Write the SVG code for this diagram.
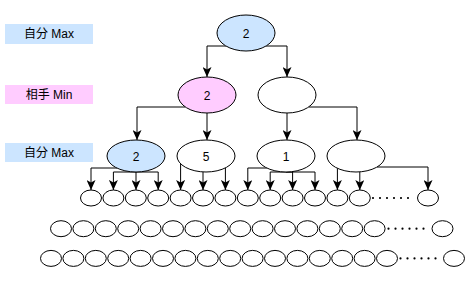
<svg xmlns="http://www.w3.org/2000/svg" width="474" height="281" viewBox="0 0 474 281">
<style>
.n{stroke:#000;stroke-width:1;fill:#fff}
.leaf{stroke:#000;stroke-width:1;fill:#fff}
.blue{fill:#cce5ff}
.pink{fill:#ffccff}
.t{font-family:"Liberation Sans","Noto Sans CJK JP",sans-serif;font-size:12px;fill:#000;text-anchor:middle;dominant-baseline:central}
.e{fill:none;stroke:#000;stroke-width:1;marker-end:url(#a)}
.dots{stroke:#000;stroke-width:2.2;stroke-linecap:round;stroke-dasharray:0 7;fill:none}
</style>
<defs>
<marker id="a" markerUnits="userSpaceOnUse" markerWidth="10" markerHeight="9" refX="10" refY="4.5" orient="auto" viewBox="0 0 10 9">
<path d="M0,0 L10,4.5 L0,9 L2.5,4.5 Z" fill="#000"/>
</marker>
</defs>
<g id="labels">
<g id="label-max1"><rect x="5" y="24" width="88" height="20" class="blue"/><text class="t" x="49" y="34">自分 Max</text></g>
<g id="label-min"><rect x="5" y="85" width="88" height="19" class="pink"/><text class="t" x="49" y="94.5">相手 Min</text></g>
<g id="label-max2"><rect x="5" y="143" width="88" height="19" class="blue"/><text class="t" x="49" y="152.5">自分 Max</text></g>
</g>
<g id="connectors">
<path class="e" d="M226,46 H207 V77"/>
<path class="e" d="M266,46 H287 V77"/>
<path class="e" d="M185.4,107 H137 V140"/>
<path class="e" d="M207,113 V140"/>
<path class="e" d="M287,113 V140"/>
<path class="e" d="M308.6,107 H357 V140"/>
<path class="e" d="M117,168 H91 V190"/>
<path class="e" d="M136,172 H113.4 V190"/>
<path class="e" d="M136,172 V190"/>
<path class="e" d="M136,172 H158.2 V190"/>
<path class="e" d="M180.6,163.7 V190"/>
<path class="e" d="M203,171.9 V190"/>
<path class="e" d="M225.4,167.9 V190"/>
<path class="e" d="M266.8,168 H247.8 V190"/>
<path class="e" d="M286,172 H270.2 V190"/>
<path class="e" d="M286,172 H292.6 V190"/>
<path class="e" d="M286,172 H315 V190"/>
<path class="e" d="M337.4,168.3 V190"/>
<path class="e" d="M359.8,171.9 V190"/>
<path class="e" d="M377,167 H428 V190"/>
</g>
<g id="n-root"><ellipse class="n blue" cx="246" cy="33" rx="29" ry="18"/><text class="t" x="246" y="34">2</text></g>
<g id="n-min1"><ellipse class="n pink" cx="207" cy="95" rx="29" ry="18"/><text class="t" x="207" y="96">2</text></g>
<g id="n-min2"><ellipse class="n" cx="287" cy="95" rx="29" ry="18"/></g>
<g id="n-max1"><ellipse class="n blue" cx="136" cy="156" rx="29" ry="16"/><text class="t" x="136" y="157">2</text></g>
<g id="n-max2"><ellipse class="n" cx="206" cy="156" rx="29" ry="16"/><text class="t" x="206" y="157">5</text></g>
<g id="n-max3"><ellipse class="n" cx="286" cy="156" rx="29" ry="16"/><text class="t" x="286" y="157">1</text></g>
<g id="n-max4"><ellipse class="n" cx="356" cy="156" rx="29" ry="16"/></g>
<g id="row1">
<ellipse class="leaf" cx="91" cy="198" rx="10.5" ry="8"/>
<ellipse class="leaf" cx="113.4" cy="198" rx="10.5" ry="8"/>
<ellipse class="leaf" cx="135.8" cy="198" rx="10.5" ry="8"/>
<ellipse class="leaf" cx="158.2" cy="198" rx="10.5" ry="8"/>
<ellipse class="leaf" cx="180.6" cy="198" rx="10.5" ry="8"/>
<ellipse class="leaf" cx="203" cy="198" rx="10.5" ry="8"/>
<ellipse class="leaf" cx="225.4" cy="198" rx="10.5" ry="8"/>
<ellipse class="leaf" cx="247.8" cy="198" rx="10.5" ry="8"/>
<ellipse class="leaf" cx="270.2" cy="198" rx="10.5" ry="8"/>
<ellipse class="leaf" cx="292.6" cy="198" rx="10.5" ry="8"/>
<ellipse class="leaf" cx="315" cy="198" rx="10.5" ry="8"/>
<ellipse class="leaf" cx="337.4" cy="198" rx="10.5" ry="8"/>
<ellipse class="leaf" cx="359.8" cy="198" rx="10.5" ry="8"/>
<line class="dots" x1="373" y1="198" x2="415" y2="198"/>
<ellipse class="leaf" cx="428" cy="198" rx="10.5" ry="8"/>
</g>
<g id="row2">
<ellipse class="leaf" cx="61" cy="228.7" rx="10.5" ry="8"/>
<ellipse class="leaf" cx="83.4" cy="228.7" rx="10.5" ry="8"/>
<ellipse class="leaf" cx="105.8" cy="228.7" rx="10.5" ry="8"/>
<ellipse class="leaf" cx="128.2" cy="228.7" rx="10.5" ry="8"/>
<ellipse class="leaf" cx="150.6" cy="228.7" rx="10.5" ry="8"/>
<ellipse class="leaf" cx="173" cy="228.7" rx="10.5" ry="8"/>
<ellipse class="leaf" cx="195.4" cy="228.7" rx="10.5" ry="8"/>
<ellipse class="leaf" cx="217.8" cy="228.7" rx="10.5" ry="8"/>
<ellipse class="leaf" cx="240.2" cy="228.7" rx="10.5" ry="8"/>
<ellipse class="leaf" cx="262.6" cy="228.7" rx="10.5" ry="8"/>
<ellipse class="leaf" cx="285" cy="228.7" rx="10.5" ry="8"/>
<ellipse class="leaf" cx="307.4" cy="228.7" rx="10.5" ry="8"/>
<ellipse class="leaf" cx="329.8" cy="228.7" rx="10.5" ry="8"/>
<ellipse class="leaf" cx="352.2" cy="228.7" rx="10.5" ry="8"/>
<ellipse class="leaf" cx="374.6" cy="228.7" rx="10.5" ry="8"/>
<line class="dots" x1="388.5" y1="228.7" x2="430.5" y2="228.7"/>
<ellipse class="leaf" cx="442.5" cy="228.7" rx="10.5" ry="8"/>
</g>
<g id="row3">
<ellipse class="leaf" cx="51" cy="258.4" rx="10.5" ry="8"/>
<ellipse class="leaf" cx="73.4" cy="258.4" rx="10.5" ry="8"/>
<ellipse class="leaf" cx="95.8" cy="258.4" rx="10.5" ry="8"/>
<ellipse class="leaf" cx="118.2" cy="258.4" rx="10.5" ry="8"/>
<ellipse class="leaf" cx="140.6" cy="258.4" rx="10.5" ry="8"/>
<ellipse class="leaf" cx="163" cy="258.4" rx="10.5" ry="8"/>
<ellipse class="leaf" cx="185.4" cy="258.4" rx="10.5" ry="8"/>
<ellipse class="leaf" cx="207.8" cy="258.4" rx="10.5" ry="8"/>
<ellipse class="leaf" cx="230.2" cy="258.4" rx="10.5" ry="8"/>
<ellipse class="leaf" cx="252.6" cy="258.4" rx="10.5" ry="8"/>
<ellipse class="leaf" cx="275" cy="258.4" rx="10.5" ry="8"/>
<ellipse class="leaf" cx="297.4" cy="258.4" rx="10.5" ry="8"/>
<ellipse class="leaf" cx="319.8" cy="258.4" rx="10.5" ry="8"/>
<ellipse class="leaf" cx="342.2" cy="258.4" rx="10.5" ry="8"/>
<ellipse class="leaf" cx="364.6" cy="258.4" rx="10.5" ry="8"/>
<ellipse class="leaf" cx="387" cy="258.4" rx="10.5" ry="8"/>
<line class="dots" x1="400.5" y1="258.4" x2="442" y2="258.4"/>
<ellipse class="leaf" cx="454" cy="258.4" rx="10.5" ry="8"/>
</g>
</svg>
